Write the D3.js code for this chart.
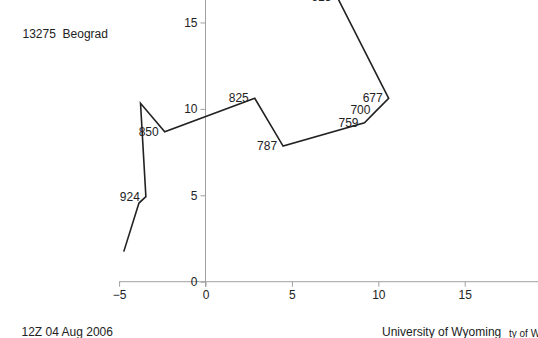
<!DOCTYPE html>
<html>
<head>
<meta charset="utf-8">
<script src="https://cdn.jsdelivr.net/npm/d3@7"></script>
<style>
  html, body { margin: 0; padding: 0; background: #fff; }
  svg { display: block; font-family: "Liberation Sans", Arial, Helvetica, sans-serif; }
</style>
</head>
<body>
<svg id="chart" width="538" height="338"></svg>
<script>
// Hodograph data (wind components)
const uWind = [-4.73, -3.85, -3.45, -3.76, -2.36, 2.85, 4.49, 9.20, 9.89, 10.60, 7.63];
const vWind = [1.74, 4.55, 4.92, 10.32, 8.68, 10.61, 7.85, 9.20, 9.90, 10.61, 16.45];
const pressureLabels = ["", "", "924", "", "850", "825", "787", "759", "700", "677", "613"];
const xTicks = [-5, 0, 5, 10, 15];
const yTicks = [0, 5, 10, 15];
const stationText = "13275  Beograd";
const timeText = "12Z 04 Aug 2006";
const creditText = "University of Wyoming";
const creditText2 = "ty of Wyoming";

const svg = d3.select("#chart");
const W = 538, H = 338;

const x = d3.scaleLinear().domain([-5, 19.2]).range([119.1, 537.3]);
const y = d3.scaleLinear().domain([0, 16.3]).range([281.7, 0.0]);

const axisColor = "#a0a0a0";
const textColor = "#222";

// X axis
const gx = svg.append("g").attr("transform", `translate(0,${y(0)})`)
  .call(d3.axisBottom(x).tickValues(xTicks).tickSize(5).tickSizeOuter(0).tickPadding(4)
        .tickFormat(d3.format("d")));
gx.select(".domain").remove();
gx.selectAll(".tick line").attr("stroke", axisColor);
gx.selectAll(".tick text").attr("fill", textColor).style("font-size", "12px")
  .style("font-family", "Liberation Sans, Arial, sans-serif");
gx.append("line").attr("x1", x(-5)).attr("x2", W).attr("y1", 0).attr("y2", 0)
  .attr("stroke", axisColor).attr("stroke-width", 1);

// Y axis
const gy = svg.append("g").attr("transform", `translate(${x(0)},0)`)
  .call(d3.axisLeft(y).tickValues(yTicks).tickSize(5).tickSizeOuter(0).tickPadding(3)
        .tickFormat(d3.format("d")));
gy.select(".domain").remove();
gy.selectAll(".tick line").attr("stroke", axisColor);
gy.selectAll(".tick text").attr("fill", textColor).style("font-size", "12px")
  .style("font-family", "Liberation Sans, Arial, sans-serif");
gy.append("line").attr("x1", 0).attr("x2", 0).attr("y1", y(0) + 5).attr("y2", 0)
  .attr("stroke", axisColor).attr("stroke-width", 1);

// Hodograph line
const pts = uWind.map((u, i) => ({ u, v: vWind[i], p: pressureLabels[i] }));
svg.append("path").datum(pts)
  .attr("d", d3.line().x(d => x(d.u)).y(d => y(d.v)))
  .attr("fill", "none").attr("stroke", "#222").attr("stroke-width", 1.6)
  .attr("stroke-linejoin", "miter");

// Pressure labels
svg.append("g").selectAll("text").data(pts.filter(d => d.p !== "")).join("text")
  .attr("x", d => x(d.u) - 6).attr("y", d => y(d.v))
  .attr("dy", "0.32em").attr("text-anchor", "end")
  .attr("fill", textColor).style("font-size", "12px").text(d => d.p);

// Header / footer texts
svg.append("text").attr("x", 22.5).attr("y", 37.5).attr("fill", textColor)
  .style("font-size", "12px").style("white-space", "pre").text(stationText);
svg.append("text").attr("x", 21.5).attr("y", 336).attr("fill", textColor)
  .style("font-size", "12px").text(timeText);
svg.append("text").attr("x", 382).attr("y", 335.5).attr("fill", textColor)
  .style("font-size", "12px").text(creditText);
svg.append("text").attr("x", 509).attr("y", 337).attr("fill", textColor)
  .style("font-size", "10px").text(creditText2);
</script>
</body>
</html>
